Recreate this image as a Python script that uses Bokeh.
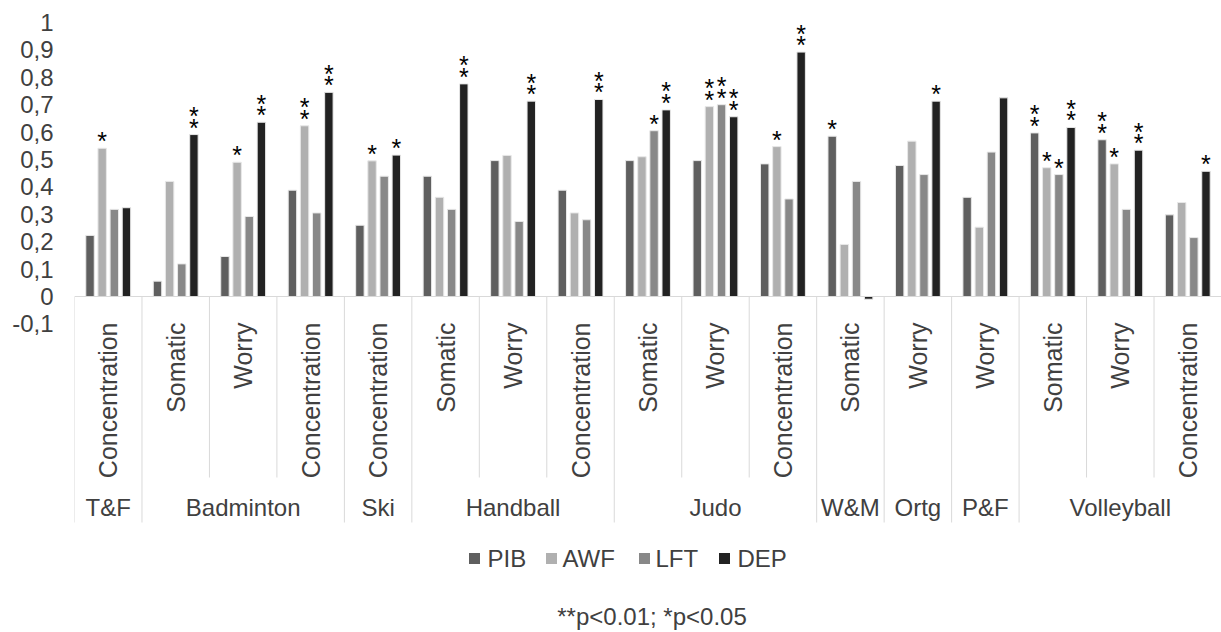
import math
from bokeh.plotting import figure
from bokeh.models import (ColumnDataSource, FixedTicker, CustomJSTickFormatter,
                          Label, Range1d, Span)
from bokeh.transform import dodge
from bokeh.core.properties import value
from bokeh.embed import file_html
from bokeh.resources import INLINE

# ---------------- data ----------------
groups = ["T&F", "Badminton", "Ski", "Handball", "Judo", "W&M", "Ortg", "P&F", "Volleyball"]
group_sizes = [1, 3, 1, 3, 3, 1, 1, 1, 3]
subcats = ["Concentration", "Somatic", "Worry", "Concentration", "Concentration",
           "Somatic", "Worry", "Concentration", "Somatic", "Worry", "Concentration",
           "Somatic", "Worry", "Worry", "Somatic", "Worry", "Concentration"]

series = ["PIB", "AWF", "LFT", "DEP"]
pib = [0.223, 0.056, 0.146, 0.388, 0.260, 0.439, 0.496, 0.388, 0.496, 0.496, 0.484,
       0.585, 0.478, 0.362, 0.597, 0.572, 0.298]
awf = [0.541, 0.420, 0.490, 0.623, 0.495, 0.362, 0.515, 0.305, 0.510, 0.693, 0.547,
       0.190, 0.567, 0.253, 0.470, 0.484, 0.343]
lft = [0.318, 0.119, 0.292, 0.305, 0.439, 0.318, 0.274, 0.280, 0.605, 0.700, 0.356,
       0.420, 0.445, 0.527, 0.445, 0.318, 0.215]
dep = [0.324, 0.591, 0.636, 0.745, 0.516, 0.776, 0.713, 0.719, 0.681, 0.656, 0.892,
       -0.010, 0.713, 0.725, 0.617, 0.534, 0.457]

sig_pib = ["", "", "", "", "", "", "", "", "", "", "", "*", "", "", "**", "**", ""]
sig_awf = ["*", "", "*", "**", "*", "", "", "", "", "**", "*", "", "", "", "*", "*", ""]
sig_lft = ["", "", "", "", "", "", "", "", "*", "**", "", "", "", "", "*", "", ""]
sig_dep = ["", "**", "**", "**", "*", "**", "**", "**", "**", "**", "**", "", "*", "", "**", "**", "*"]

y_ticks = [-0.1, 0.0, 0.1, 0.2, 0.3, 0.4, 0.5, 0.6, 0.7, 0.8, 0.9, 1.0]
footnote = "**p<0.01; *p<0.05"

# ---------------- style / layout ----------------
colors = ["#5f5f5f", "#b0b0b0", "#888888", "#222222"]
FONT = "Liberation Sans"
TXT = "#404040"
GRID = "#d9d9d9"

W, H = 1221, 632
LEFT = 74
PX = 274.0          # pixels per y unit
Y0 = 296.0          # pixel row of y = 0
n = len(subcats)
CAT = (W - LEFT) / n  # pixels per category


def xd(px):  # page pixel column -> data x
    return (px - LEFT) / CAT


def yd(py):  # page pixel row -> data y
    return (Y0 - py) / PX


p = figure(width=W, height=H, output_backend="svg", toolbar_location=None,
           x_range=Range1d(0, n), y_range=Range1d(yd(H), yd(0)),
           x_axis_type=None, min_border_left=LEFT, min_border_right=0,
           min_border_top=0, min_border_bottom=0)
p.outline_line_color = None
p.xgrid.visible = False
p.ygrid.visible = False
p.background_fill_color = "white"
p.border_fill_color = "white"

yax = p.yaxis[0]
yax.ticker = FixedTicker(ticks=y_ticks)
yax.formatter = CustomJSTickFormatter(
    code="return (Math.round(tick*10)/10).toString().replace('.', ',');")
yax.axis_line_color = None
yax.major_tick_line_color = None
yax.minor_tick_line_color = None
yax.major_tick_out = 0
yax.major_tick_in = 0
yax.major_label_standoff = 21
yax.major_label_text_font = FONT
yax.major_label_text_font_size = "24px"
yax.major_label_text_color = TXT

vals = [pib, awf, lft, dep]
sigs = [sig_pib, sig_awf, sig_lft, sig_dep]
data = dict(xc=[i + 0.5 for i in range(n)], sub=subcats)
for name, v, s in zip(series, vals, sigs):
    data[name] = v
    data[name + "_s1"] = ["*" if t else "" for t in s]
    data[name + "_s2"] = ["*" if t == "**" else "" for t in s]
    data[name + "_y1"] = [max(x, 0) + 7 / PX for x in v]
    data[name + "_y2"] = [max(x, 0) + 18.5 / PX for x in v]
src = ColumnDataSource(data)

offsets = [-0.27, -0.09, 0.09, 0.27]
bar_w = 0.125
for k, name in enumerate(series):
    p.vbar(x=dodge("xc", offsets[k], range=p.x_range), top=name, bottom=0,
           width=bar_w, source=src, fill_color=colors[k],
           line_color="#e8e8e8", line_width=1)

# axis line at zero
p.add_layout(Span(location=0, dimension="width", line_color=GRID, line_width=1))

# category separators
bounds_long = [0]
bounds_short = []
pos = 0
for g in group_sizes:
    for j in range(1, g):
        bounds_short.append(pos + j)
    pos += g
    bounds_long.append(pos)
p.segment(x0=bounds_short, y0=[0] * len(bounds_short), x1=bounds_short,
          y1=[yd(477)] * len(bounds_short), line_color=GRID, line_width=1)
p.segment(x0=bounds_long, y0=[0] * len(bounds_long), x1=bounds_long,
          y1=[yd(522)] * len(bounds_long), line_color=GRID, line_width=1)

# significance stars
for k, name in enumerate(series):
    for lvl in ("1", "2"):
        p.text(x=dodge("xc", offsets[k], range=p.x_range), y=name + "_y" + lvl,
               text=name + "_s" + lvl, source=src, text_align="center",
               text_baseline="middle", text_font=value(FONT),
               text_font_size="25px", text_color="black")

# sub-category labels
p.text(x="xc", y=yd(322), text="sub", source=src, angle=math.pi / 2,
       text_align="right", text_baseline="middle", text_font=value(FONT),
       text_font_size="25px", text_color=TXT)

# group labels
gx = []
start = 0
for g in group_sizes:
    gx.append(start + g / 2)
    start += g
gsrc = ColumnDataSource(dict(x=gx, name=groups))
p.text(x="x", y=yd(507), text="name", source=gsrc, text_align="center",
       text_baseline="middle", text_font=value(FONT), text_font_size="24px",
       text_color=TXT)

# legend (drawn by hand, Excel style)
leg_marker_px = [474, 551, 644, 724]
leg_text_px = [487, 562, 655, 737]
lsrc = ColumnDataSource(dict(mx=[xd(v) for v in leg_marker_px],
                             tx=[xd(v) for v in leg_text_px],
                             name=series, color=colors))
p.scatter(x="mx", y=yd(558), marker="square", size=11, fill_color="color",
          line_color=None, source=lsrc)
p.text(x="tx", y=yd(558), text="name", source=lsrc, text_align="left",
       text_baseline="middle", text_font=value(FONT), text_font_size="24px",
       text_color=TXT)

# footnote
p.add_layout(Label(x=xd(651.5), y=yd(616), text=footnote,
                   text_align="center", text_baseline="middle", text_font=FONT,
                   text_font_size="24px", text_color=TXT))

open("out.html", "w").write(file_html(p, INLINE))
